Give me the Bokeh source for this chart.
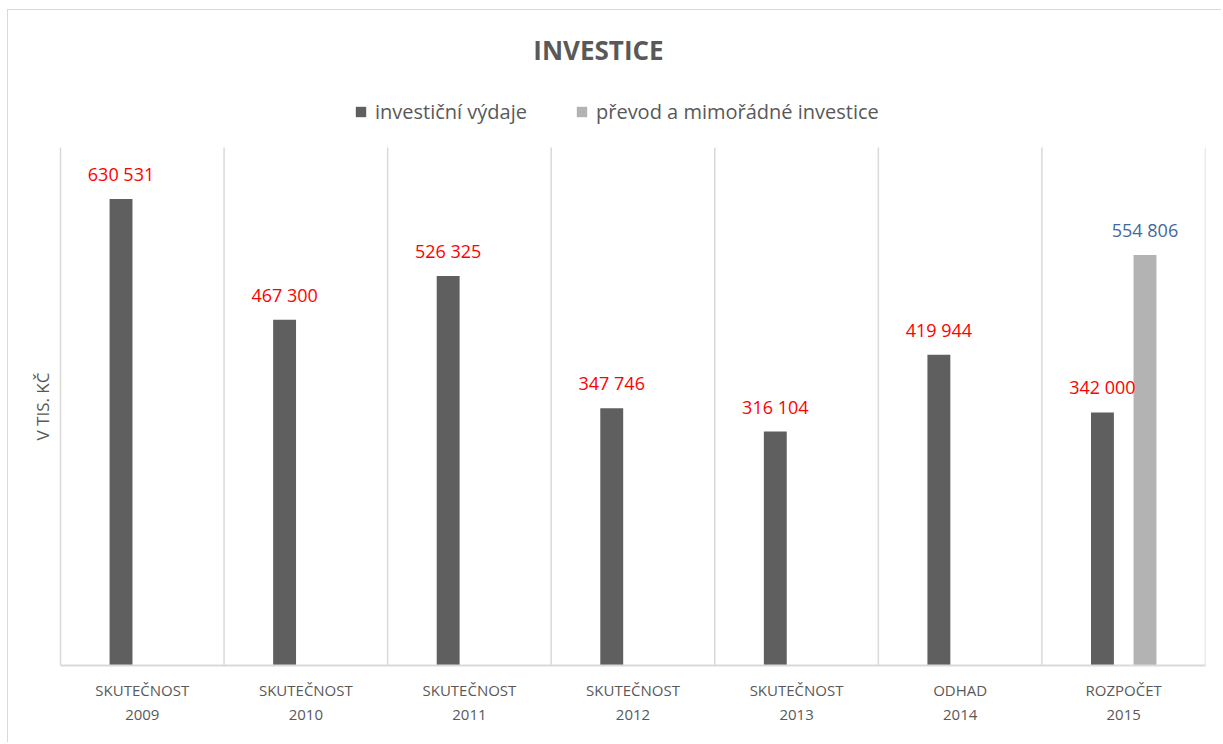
import math
from bokeh.plotting import figure
from bokeh.models import Range1d, FixedTicker, ColumnDataSource, Legend, LegendItem, Label
from bokeh.embed import file_html
from bokeh.resources import INLINE

# ---- data ----
categories = ["SKUTEČNOST\n2009", "SKUTEČNOST\n2010", "SKUTEČNOST\n2011",
              "SKUTEČNOST\n2012", "SKUTEČNOST\n2013", "ODHAD\n2014", "ROZPOČET\n2015"]
investicni_vydaje = [630531, 467300, 526325, 347746, 316104, 419944, 342000]
prevod_mimoradne = [0, 0, 0, 0, 0, 0, 554806]
series_names = ["investiční výdaje", "převod a mimořádné investice"]
title_text = "INVESTICE"
y_label = "V TIS. KČ"
y_max = 700000

def fmt(v):
    return f"{v:,}".replace(",", " ")

n = len(categories)
centers = [i + 0.5 for i in range(n)]
off = 0.13
bw = 0.14

FONT = "Open Sans"
GREY_TXT = "#595959"
LINE = "#d9d9d9"

# layout geometry (pixels)
FIG_X0, FIG_Y0 = 8, 10          # page position of figure content
PLOT_L, PLOT_R, PLOT_T, PLOT_B = 60, 1205, 147, 665   # plot area on page
cat_px = (PLOT_R - PLOT_L) / n
px_per_unit = (PLOT_B - PLOT_T) / y_max
frame_w = PLOT_R - FIG_X0
frame_h = PLOT_B - FIG_Y0

def xd(page_x):
    return (page_x - PLOT_L) / cat_px

def yd(page_y):
    return (PLOT_B - page_y) / px_per_unit

p = figure(width=1214, height=733, output_backend="svg", toolbar_location=None,
           x_range=Range1d(xd(FIG_X0), n), y_range=Range1d(0, yd(FIG_Y0)),
           min_border_left=0, min_border_top=0, min_border_right=1214 - frame_w,
           min_border_bottom=733 - frame_h)
p.outline_line_color = None
p.background_fill_color = "white"
p.border_fill_color = "white"
p.title.visible = False

# category separators (plot-area vertical grid)
bounds = list(range(n + 1))
p.segment(x0=bounds, y0=[0] * len(bounds), x1=bounds, y1=[y_max] * len(bounds),
          line_color=LINE, line_width=1.5)

# bars
src1 = ColumnDataSource(dict(x=[c - off for c in centers], top=investicni_vydaje,
                             lab=[fmt(v) for v in investicni_vydaje]))
idx2 = [i for i, v in enumerate(prevod_mimoradne) if v > 0]
src2 = ColumnDataSource(dict(x=[centers[i] + off for i in idx2],
                             top=[prevod_mimoradne[i] for i in idx2],
                             lab=[fmt(prevod_mimoradne[i]) for i in idx2]))

r1 = p.vbar(x="x", top="top", width=bw, source=src1, fill_color="#5f5f5f", line_color=None)
r2 = p.vbar(x="x", top="top", width=bw, source=src2, fill_color="#b3b3b3", line_color=None)

p.text(x="x", y="top", text="lab", source=src1, text_align="center", text_baseline="bottom",
       y_offset=-13, text_font_size="18px", text_color="#ff0000", text_font={"value": FONT})
p.text(x="x", y="top", text="lab", source=src2, text_align="center", text_baseline="bottom",
       y_offset=-13, text_font_size="18px", text_color="#44689a", text_font={"value": FONT})

# x axis
p.xaxis.ticker = FixedTicker(ticks=centers)
p.xaxis.major_label_overrides = {c: lab for c, lab in zip(centers, categories)}
p.xaxis.bounds = (0, n)
p.xaxis.major_tick_line_color = None
p.xaxis.minor_tick_line_color = None
p.xaxis.axis_line_color = LINE
p.xaxis.axis_line_width = 2
p.xaxis.major_label_text_font = FONT
p.xaxis.major_label_text_font_size = "15px"
p.xaxis.major_label_text_color = GREY_TXT
p.xaxis.major_label_standoff = 8

p.yaxis.visible = False
p.xgrid.grid_line_color = None
p.ygrid.grid_line_color = None

# title
p.add_layout(Label(x=xd(598), y=yd(49), text=title_text, text_align="center",
                   text_baseline="middle", text_font=FONT, text_font_size="26px",
                   text_font_style="bold", text_color=GREY_TXT))
# y axis title
p.add_layout(Label(x=xd(42), y=yd(406), text=y_label, angle=math.pi / 2,
                   text_align="center", text_baseline="middle", text_font=FONT,
                   text_font_size="17px", text_color=GREY_TXT))

legend = Legend(items=[LegendItem(label=series_names[0], renderers=[r1]),
                       LegendItem(label=series_names[1], renderers=[r2])],
                orientation="horizontal", location=(354 - FIG_X0, PLOT_B - 125),
                glyph_width=13, glyph_height=13, label_standoff=8, spacing=48,
                label_text_font=FONT, label_text_font_size="20px",
                label_text_color=GREY_TXT, border_line_color=None,
                background_fill_alpha=0, padding=4, margin=0)
p.add_layout(legend)

p.styles = {"margin-left": "7px", "margin-top": "9px",
            "border-left": "1px solid #d9d9d9", "border-top": "1px solid #d9d9d9"}

open("out.html", "w").write(file_html(p, INLINE))
